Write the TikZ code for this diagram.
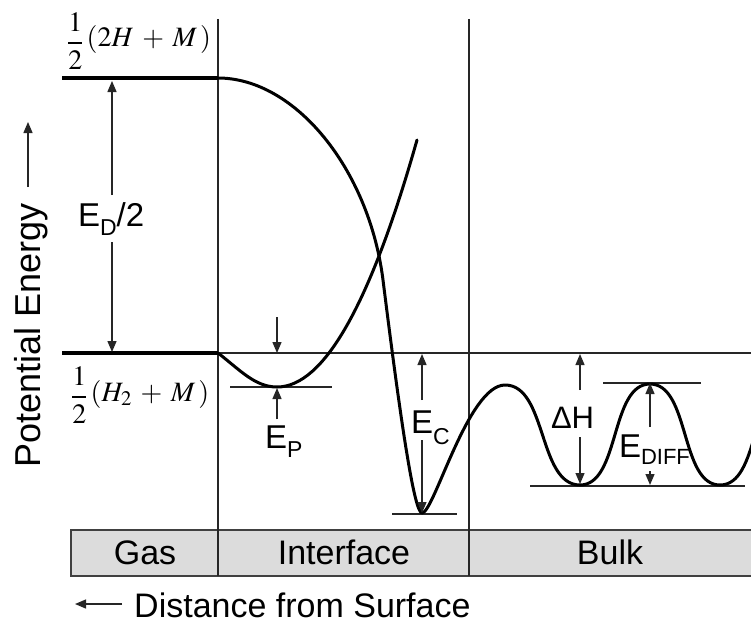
\documentclass[tikz,border=0pt]{standalone}
\usepackage{graphicx}
\usepackage{mathptmx}
\usepackage[no-math]{fontspec}
\setmainfont{Liberation Sans}
\usetikzlibrary{arrows.meta}
\newcommand\setfs[1]{\fontsize{#1}{#1}\selectfont}
\newcommand\halffrac{\raisebox{-3pt}{$\displaystyle\frac{1}{2}$}}
\definecolor{boxgray}{RGB}{220,220,220}
\tikzset{
  curve/.style={line width=3pt, line join=round, line cap=round},
  levelline/.style={line width=4pt},
  thinline/.style={line width=1.3pt, draw=black!85},
  vline/.style={line width=1.5pt, draw=black!85},
  arr/.style={line width=1.3pt, draw=black!85, -{Triangle[length=11pt,width=9pt]}},
  lbl/.style={inner xsep=0pt, inner ysep=7pt, outer sep=0pt, font=\setfs{33}},
  cell/.style={inner sep=0pt, font=\setfs{34}},
  mathlbl/.style={inner sep=0pt, anchor=base west, font=\setfs{28}},
}
\begin{document}
\begin{tikzpicture}[x=1pt,y=-1pt]
\useasboundingbox (0,0) rectangle (751,626);
\clip (0,0) rectangle (751,626);

% region bar
\fill[boxgray] (71,530) rectangle (760,576);
\draw[line width=1.5pt, black!75] (760,530) -- (71,530) -- (71,576) -- (760,576);
\node[cell, anchor=base] (gas) at (145,564) {Gas};
\node[cell, anchor=base] (iface) at (344,564) {Interface};
\node[cell, anchor=base] (bulk) at (610,564) {Bulk};

% region separators
\draw[vline] (218,19) -- (218,576);
\draw[vline] (469,19) -- (469,576);

% energy levels
\draw[levelline] (62,78) -- (218,78);
\draw[levelline] (62,353) -- (218,353);
\draw[thinline] (218,353) -- (760,353);
\draw[thinline] (230,387) -- (332,387);
\draw[thinline] (392,514) -- (457,514);
\draw[thinline] (530,486) -- (745,486);
\draw[thinline] (603,383) -- (701,383);

% atomic curve, chemisorption well and bulk
\draw[curve] (218,78) .. controls (295,78) and (369,169) .. (383,280)
  .. controls (400,416) and (414,513) .. (422,513)
  .. controls (434,513) and (468,385) .. (505,385)
  .. controls (547,385) and (538,485) .. (580,485)
  .. controls (620,485) and (610,384) .. (650,384)
  .. controls (690,384) and (680,485) .. (720,485)
  .. controls (760,485) and (750,385) .. (790,385);

% molecular (physisorption) curve
\draw[curve] (218,353) .. controls (240,370) and (255,387) .. (277,387)
  .. controls (323.7,387) and (370.3,304.7) .. (417,140);

% formulas
\node[mathlbl] (hh) at (67,47) {$\halffrac\mkern2mu(2H\mkern3mu+\mkern3mu M\,)$};
\node[mathlbl] (h2) at (71,401) {$\halffrac\mkern2mu(H_2\mkern3mu+\mkern3mu M\,)$};

% E_D/2
\coordinate (edT) at (112,81);
\coordinate (edB) at (112,352);
\node[lbl, anchor=base west] (ed) at (78,226) {E\raisebox{-9pt}{\setfs{23}D}/2};
\draw[arr] (ed.north -| edT) -- (edT);
\draw[arr] (ed.south -| edB) -- (edB);

% E_P
\coordinate (epT0) at (277,317);
\coordinate (epT) at (277,353);
\coordinate (epB) at (277,388);
\node[lbl, anchor=base west, inner ysep=6pt] (ep) at (265,448) {E\raisebox{-9pt}{\setfs{23}P}};
\draw[arr] (epT0) -- (epT);
\draw[arr] (ep.north -| epB) -- (epB);

% E_C
\coordinate (ecA) at (422,400);
\coordinate (ecT) at (422,354);
\coordinate (ecB0) at (422,440);
\coordinate (ecB) at (422,513);
\node[lbl, anchor=base west] (ec) at (411,433) {E\raisebox{-11pt}{\setfs{23}C}};
\draw[arr] (ecA) -- (ecT);
\draw[arr] (ecB0) -- (ecB);

% Delta H
\coordinate (dhA) at (580,390);
\coordinate (dhT) at (580,354);
\coordinate (dhB0) at (580,437);
\coordinate (dhB) at (580,484);
\node[lbl, anchor=base west, font=\setfs{31}] (dh) at (551,428) {ΔH};
\draw[arr] (dhA) -- (dhT);
\draw[arr] (dhB0) -- (dhB);

% E_DIFF
\coordinate (edfA) at (650,427);
\coordinate (edfT) at (650,383);
\coordinate (edfB0) at (650,471);
\coordinate (edfB) at (650,485);
\node[lbl, anchor=base west] (edf) at (619,457) {E\raisebox{-7pt}{\setfs{22}DIFF}};
\draw[arr] (edfA) -- (edfT);
\draw[arr] (edfB0) -- (edfB);

% axis labels
\node[cell, rotate=90, anchor=base east, font=\setfs{36}] (pe) at (40,203) {Potential Energy};
\coordinate (peT) at (28,122);
\coordinate (peA) at (28,187);
\draw[arr] (peA) -- (peT);

\node[cell, anchor=base west] (dist) at (134,617) {Distance from Surface};
\coordinate (dsA) at (122,604);
\coordinate (dsT) at (75,604);
\draw[arr] (dsA) -- (dsT);
\end{tikzpicture}
\end{document}
